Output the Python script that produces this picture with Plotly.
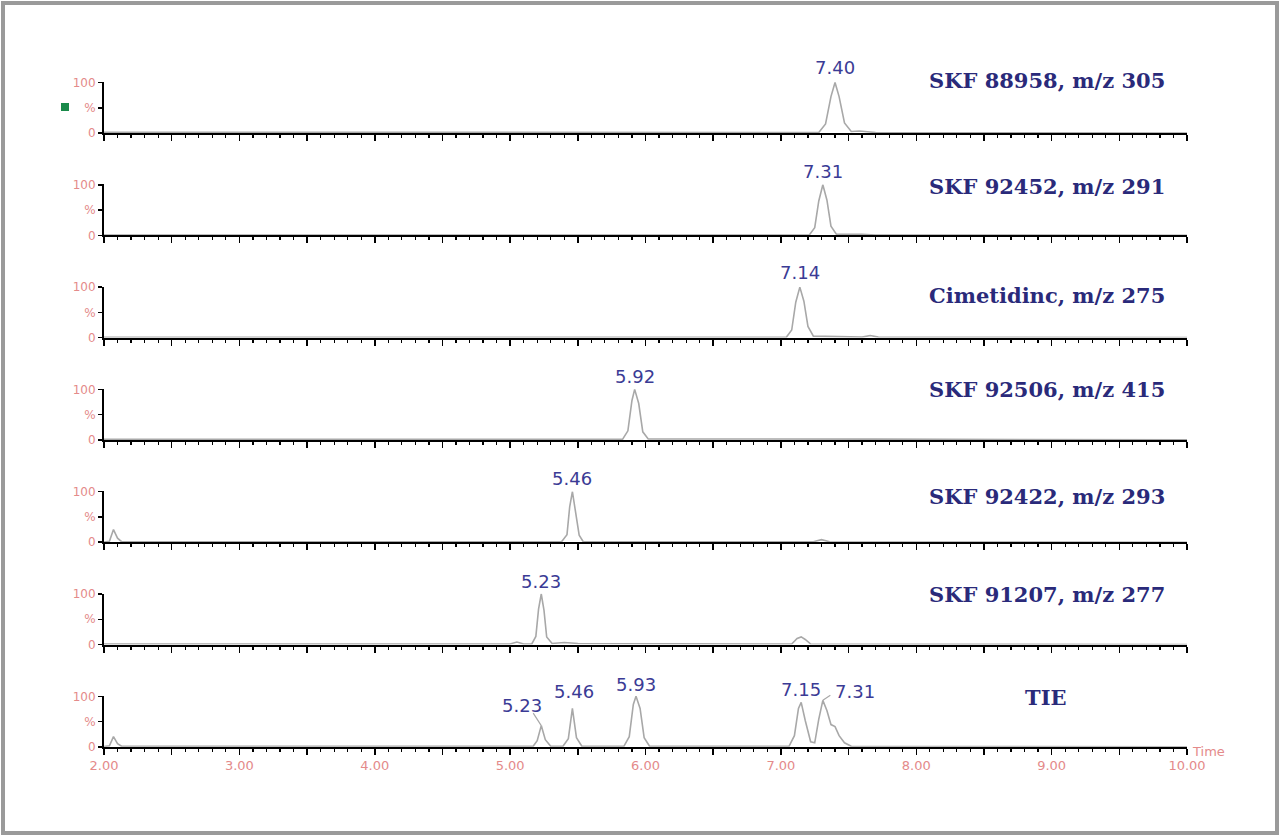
import plotly.graph_objects as go

W, H = 1280, 836

# ---- data ----
titles = ["SKF 88958, m/z 305", "SKF 92452, m/z 291", "Cimetidinc, m/z 275",
          "SKF 92506, m/z 415", "SKF 92422, m/z 293", "SKF 91207, m/z 277", "TIE"]

t1 = [2.00, 3.50, 5.80, 7.28, 7.33, 7.37, 7.40, 7.43, 7.47, 7.52, 7.58, 7.64, 7.70, 10.00]
i1 = [1.5, 1.0, 1.0, 1.0, 18, 72, 100, 72, 20, 3, 4, 3, 1, 0]

t2 = [2.00, 5.00, 7.21, 7.25, 7.28, 7.31, 7.34, 7.37, 7.41, 7.60, 7.70, 10.00]
i2 = [0.5, 0.5, 0.5, 15, 68, 100, 70, 18, 2, 2, 0.5, 0]

t3 = [2.00, 7.04, 7.08, 7.11, 7.14, 7.17, 7.20, 7.24, 7.60, 7.66, 7.72, 10.00]
i3 = [0.5, 0.5, 15, 70, 100, 72, 22, 3, 1, 4, 1, 0]

t4 = [2.00, 5.83, 5.87, 5.90, 5.92, 5.95, 5.98, 6.02, 7.70, 10.00]
i4 = [1.0, 1.0, 18, 78, 100, 72, 16, 2, 1.5, 0]

t5 = [2.00, 2.04, 2.07, 2.10, 2.13, 5.38, 5.42, 5.44, 5.46, 5.48, 5.51, 5.54,
      7.24, 7.30, 7.36, 10.00]
i5 = [0.5, 2, 25, 8, 1, 1, 15, 70, 100, 66, 14, 1, 1, 5, 1, 0]

t6 = [2.00, 5.00, 5.05, 5.10, 5.16, 5.19, 5.21, 5.23, 5.25, 5.27, 5.31, 5.40, 5.50,
      7.08, 7.12, 7.15, 7.18, 7.22, 10.00]
i6 = [1.0, 1.0, 5, 1, 1, 16, 70, 100, 68, 15, 2, 4, 2, 1, 12, 15, 10, 1, 0]

t7 = [2.00, 2.04, 2.07, 2.10, 2.13, 5.17, 5.20, 5.23, 5.26, 5.30, 5.39, 5.43,
      5.46, 5.49, 5.53, 5.84, 5.88, 5.91, 5.93, 5.96, 5.99, 6.03,
      7.06, 7.10, 7.13, 7.15, 7.18, 7.22, 7.25, 7.28, 7.31, 7.34, 7.37, 7.40,
      7.43, 7.47, 7.52, 10.00]
i7 = [0.5, 2, 20, 6, 1, 1, 12, 42, 14, 1, 1, 16, 76, 18, 1, 1, 20, 84, 100, 76, 18, 1,
      1, 22, 76, 88, 52, 10, 8, 55, 92, 72, 44, 40, 22, 8, 1, 0]

series_t = [t1, t2, t3, t4, t5, t6, t7]
series_i = [i1, i2, i3, i4, i5, i6, i7]

# peak labels
peak_rows = [0, 1, 2, 3, 4, 5, 6, 6, 6, 6, 6]
peak_text = ["7.40", "7.31", "7.14", "5.92", "5.46", "5.23", "5.23", "5.46", "5.93", "7.15", "7.31"]
peak_x = [7.40, 7.31, 7.14, 5.92, 5.46, 5.23, 5.09, 5.47, 5.93, 7.15, 7.55]

x_ticks = [2, 3, 4, 5, 6, 7, 8, 9, 10]
x_ticklabels = ["2.00", "3.00", "4.00", "5.00", "6.00", "7.00", "8.00", "9.00", "10.00"]
y_ticks = [0, 50, 100]
y_ticklabels = ["0", "%", "100"]

# ---- layout geometry (pixels) ----
x0_px, x1_px = 104, 1187
row_top0, row_h, row_step = 82, 51, 102.3
title_y_px = [80, 186, 295, 389, 496, 594, 697]
peak_label_px = [68, 171, 273, 376, 479, 581, 705, 691, 684, 689, 691]

PINK = "#e48a8a"
NAVY = "#2a2a7a"
BLUE = "#3b3b95"
GREY = "#a8a8a8"

fig = go.Figure()
layout = dict(width=W, height=H, margin=dict(l=0, r=0, t=0, b=0, pad=0, autoexpand=False),
              paper_bgcolor="white", plot_bgcolor="white", showlegend=False)

major_vals = [v / 2 for v in range(4, 21)]
annotations = []
shapes = []
for r in range(7):
    n = "" if r == 0 else str(r + 1)
    top = row_top0 + row_step * r
    bot = top + row_h
    ydom = [1 - bot / H, 1 - top / H]
    xdom = [x0_px / W, x1_px / W]
    last = r == 6
    tv = major_vals
    tt = [(x_ticklabels[x_ticks.index(v)] if (last and v in x_ticks) else "") for v in tv]
    layout["xaxis" + n] = dict(
        domain=xdom, anchor="y" + n, range=[2, 10], showgrid=False, zeroline=False,
        showline=True, linecolor="black", linewidth=2, automargin=False,
        tickmode="array", tickvals=tv, ticktext=tt,
        ticks="outside", ticklen=6, tickwidth=1.5, tickcolor="black",
        tickfont=dict(family="DejaVu Sans", size=13, color=PINK),
        minor=dict(dtick=0.1, ticks="outside", ticklen=3, tickwidth=1.2, tickcolor="black", showgrid=False),
        fixedrange=True,
    )
    layout["yaxis" + n] = dict(
        domain=ydom, anchor="x" + n, range=[0, 101], showgrid=False, zeroline=False,
        showline=True, linecolor="black", linewidth=2, automargin=False,
        tickmode="array", tickvals=y_ticks, ticktext=y_ticklabels,
        ticks="outside", ticklen=4, tickwidth=1.5, tickcolor="black",
        tickfont=dict(family="DejaVu Sans", size=12, color=PINK),
        fixedrange=True,
    )
    fig.add_trace(go.Scatter(x=series_t[r], y=series_i[r], mode="lines",
                             line=dict(color=GREY, width=1.6),
                             xaxis="x" + n, yaxis="y" + n, hoverinfo="skip"))
    annotations.append(dict(
        text="<b>" + titles[r] + "</b>", xref="paper", yref="paper",
        x=(1047 if r < 6 else 1045) / W, y=1 - title_y_px[r] / H,
        xanchor="center", yanchor="middle", showarrow=False,
        font=dict(family="DejaVu Serif", size=21, color=NAVY)))

for k in range(len(peak_text)):
    r = peak_rows[k]
    n = "" if r == 0 else str(r + 1)
    annotations.append(dict(
        text=peak_text[k], xref="x" + n, yref="paper", x=peak_x[k], y=1 - peak_label_px[k] / H,
        xanchor="center", yanchor="middle", showarrow=False,
        font=dict(family="DejaVu Sans", size=18, color=BLUE)))

# leader lines for the offset TIE labels
annotations.append(dict(text="", xref="x7", yref="y7", x=5.23, y=42, ax=-9, ay=-14,
                        showarrow=True, arrowhead=0, arrowwidth=1.2, arrowcolor=GREY))
annotations.append(dict(text="", xref="x7", yref="y7", x=7.31, y=92, ax=9, ay=-6,
                        showarrow=True, arrowhead=0, arrowwidth=1.2, arrowcolor=GREY))

annotations.append(dict(text="Time", xref="paper", yref="paper", x=1190 / W, y=1 - 751 / H,
                        xanchor="left", yanchor="middle", showarrow=False,
                        font=dict(family="DejaVu Sans", size=13, color=PINK)))

shapes.append(dict(type="rect", xref="paper", yref="paper", x0=3 / W, x1=1277 / W,
                   y0=1 - 833 / H, y1=1 - 3 / H, line=dict(color="#9a9a9a", width=4),
                   fillcolor="rgba(0,0,0,0)"))
shapes.append(dict(type="rect", xref="paper", yref="paper", x0=61 / W, x1=69 / W,
                   y0=1 - 111 / H, y1=1 - 103 / H, line=dict(width=0),
                   fillcolor="#1a8a4a"))

layout["annotations"] = annotations
layout["shapes"] = shapes
fig.update_layout(**layout)
fig.write_html("out.html", config={"displayModeBar": False, "staticPlot": True},
               post_script="document.body.style.margin='0';document.body.style.overflow='hidden';")
